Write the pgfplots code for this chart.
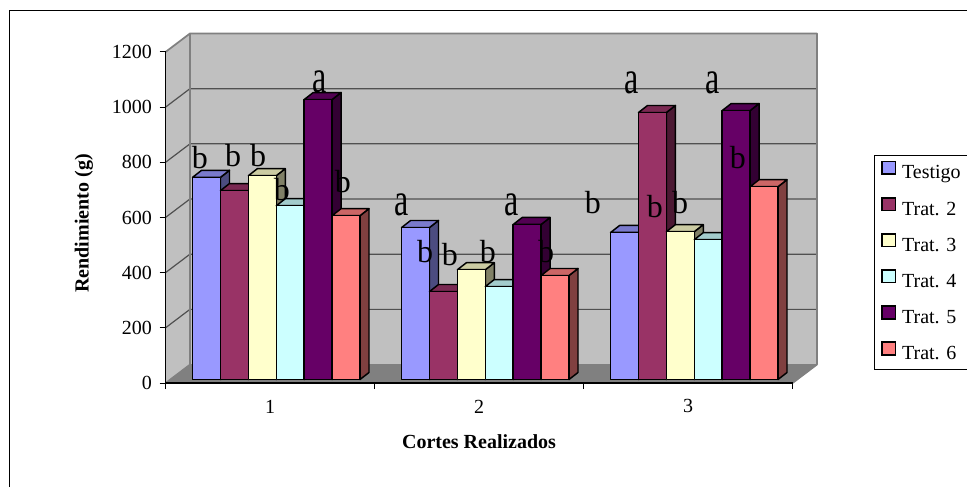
\documentclass[border=0pt]{standalone}
\usepackage{fontspec}
\setmainfont{Liberation Serif}
\usepackage{graphicx}
\usepackage{pgfplots}
\usepackage{pgfplotstable}
\pgfplotsset{compat=1.18}
\definecolor{cTest}{HTML}{9999FF}
\definecolor{cTa}{HTML}{993366}
\definecolor{cTb}{HTML}{FFFFCC}
\definecolor{cTc}{HTML}{CCFFFF}
\definecolor{cTd}{HTML}{660066}
\definecolor{cTe}{HTML}{FF8080}
\definecolor{wallc}{HTML}{C0C0C0}
\definecolor{floorc}{HTML}{808080}
\definecolor{edgec}{HTML}{808080}
\definecolor{gridc}{HTML}{505050}

\pgfplotstableread{
corte testigo t2 t3 t4 t5 t6
1 733 685 739 630 1015 594
2 551 319 398 337 562 377
3 533 968 536 507 975 699
}\datos

\pgfdeclareplotmark{nothing}{}
% sizes in pt (1 px = 0.75 pt): half width 10.4625pt, depth dx 6.75pt, dy 5.25pt
\pgfplotsset{
  bar3d/.style n args={2}{
    scatter, only marks, mark=nothing,
    point meta=y, point meta min=0, point meta max=2000,
    scatter/@pre marker code/.code={%
      \pgfmathsetlengthmacro\barh{\pgfplotspointmetatransformed*0.41375pt}%
      \pgfmathsetlengthmacro\xl{#2pt-10.4625pt}%
      \pgfmathsetlengthmacro\xr{#2pt+10.4625pt}%
      \pgfmathsetlengthmacro\yb{2.625pt-\barh}%
      \begin{scope}[line width=1.1pt, line join=round, draw=black]
        \filldraw[fill=#1!50!black] (\xr,\yb) -- ++(6.75pt,5.25pt) -- ++(0pt,\barh) -- ++(-6.75pt,-5.25pt) -- cycle;
        \filldraw[fill=#1!80!black] (\xl,2.625pt) -- ++(6.75pt,5.25pt) -- ++(20.925pt,0pt) -- ++(-6.75pt,-5.25pt) -- cycle;
        \filldraw[fill=#1] (\xl,\yb) rectangle (\xr,2.625pt);
      \end{scope}
    },
    scatter/@post marker code/.code={},
    legend image code/.code={\filldraw[fill=#1,draw=black,line width=1.2pt] (0pt,0pt) rectangle (10pt,9.5pt);},
  },
}
\tikzset{lett/.style={font=\fontsize{24}{24}\selectfont, inner sep=0pt, anchor=center}}
\newcommand\la{\scalebox{1}[1.45]{a}}

\begin{document}
\begin{tikzpicture}
\draw[black, line width=0.75pt] (6.75pt,0pt) -- (6.75pt,357pt) -- (725.25pt,357pt);
\begin{axis}[
  set layers,
  at={(124.125pt,78pt)}, anchor=south west,
  x=156.75pt, y=0.206875pt,
  xmin=0.5, xmax=3.5, ymin=0, ymax=1200,
  clip=false, axis on top,
  axis x line=bottom, axis y line=left,
  axis line style={-, black, line width=1.1pt},
  tick align=outside,
  xtick={0.5,1.5,2.5,3.5}, xticklabels={,,,},
  extra x ticks={1,2,3}, extra x tick labels={1,2,3},
  extra x tick style={major tick length=0pt},
  major tick length=4.5pt,
  tick style={black, line width=0.75pt},
  ytick={0,200,400,600,800,1000,1200},
  /pgf/number format/assume math mode=true,
  /pgf/number format/1000 sep={},
  tick label style={font=\fontsize{15}{18}\selectfont},
  xticklabel style={anchor=center, yshift=-17.6pt},
  yticklabel style={anchor=east, xshift=-2.2pt},
  xlabel={Cortes Realizados},
  ylabel={Rendimiento (g)},
  every axis x label/.style={at={(axis description cs:0.5,-0.178)}, anchor=center, font=\bfseries\fontsize{15}{18}\selectfont},
  every axis y label/.style={at={(axis description cs:-0.130,0.482)}, rotate=90, anchor=center, font=\bfseries\fontsize{15}{18}\selectfont},
  legend style={at={(1.130,0.689)}, anchor=north west, draw=black, line width=0.75pt,
    font=\fontsize{15}{18}\selectfont, inner xsep=5pt, inner ysep=4pt,
    row sep=10pt, column sep=4.5pt,
    nodes={inner sep=0pt, text height=10.5pt, text depth=3.5pt}},
  legend cell align=left,
]
% walls and floor
\fill[wallc] (0.5,0) -- (0.5,1200) -- (0.617,1267) -- (0.617,67) -- cycle;
\fill[wallc] (0.617,67) rectangle (3.617,1267);
\fill[floorc] (0.5,0) -- (3.5,0) -- (3.617,67) -- (0.617,67) -- cycle;
\draw[gridc, line width=0.9pt] (0.5,200) -- (0.617,267) -- (3.617,267);
\draw[gridc, line width=0.9pt] (0.5,400) -- (0.617,467) -- (3.617,467);
\draw[gridc, line width=0.9pt] (0.5,600) -- (0.617,667) -- (3.617,667);
\draw[gridc, line width=0.9pt] (0.5,800) -- (0.617,867) -- (3.617,867);
\draw[gridc, line width=0.9pt] (0.5,1000) -- (0.617,1067) -- (3.617,1067);
\draw[edgec, line width=1.3pt, line join=round] (0.5,1200) -- (0.617,1267) -- (3.617,1267) -- (3.617,67) -- (3.5,0);
\draw[edgec, line width=1.1pt] (0.617,1267) -- (0.617,67) -- (3.617,67);
\draw[edgec, line width=1.1pt] (0.5,0) -- (0.617,67);

\addplot[bar3d={cTest}{-47.5875}] table[x=corte,y=testigo]{\datos};
\addlegendentry{Testigo}
\addplot[bar3d={cTa}{-26.6625}] table[x=corte,y=t2]{\datos};
\addlegendentry{Trat. 2}
\addplot[bar3d={cTb}{-5.7375}] table[x=corte,y=t3]{\datos};
\addlegendentry{Trat. 3}
\addplot[bar3d={cTc}{15.1875}] table[x=corte,y=t4]{\datos};
\addlegendentry{Trat. 4}
\addplot[bar3d={cTd}{36.1125}] table[x=corte,y=t5]{\datos};
\addlegendentry{Trat. 5}
\addplot[bar3d={cTe}{57.0375}] table[x=corte,y=t6]{\datos};
\addlegendentry{Trat. 6}

% significance letters
\begin{pgfonlayer}{axis foreground}
\node[lett] at (axis cs:0.665,816) {b};
\node[lett] at (axis cs:0.823,823) {b};
\node[lett] at (axis cs:0.943,823) {b};
\node[lett] at (axis cs:1.057,700) {b};
\node[lett] at (axis cs:1.239,1091) {\la};
\node[lett] at (axis cs:1.349,729) {b};
\node[lett] at (axis cs:1.632,645) {\la};
\node[lett] at (axis cs:1.742,475) {b};
\node[lett] at (axis cs:1.861,464) {b};
\node[lett] at (axis cs:2.043,475) {b};
\node[lett] at (axis cs:2.158,645) {\la};
\node[lett] at (axis cs:2.321,475) {b};
\node[lett] at (axis cs:2.545,653) {b};
\node[lett] at (axis cs:2.732,1088) {\la};
\node[lett] at (axis cs:2.842,638) {b};
\node[lett] at (axis cs:2.962,653) {b};
\node[lett] at (axis cs:3.120,1088) {\la};
\node[lett] at (axis cs:3.239,816) {b};
\end{pgfonlayer}
\end{axis}
\pgfresetboundingbox
\useasboundingbox (0pt,0pt) rectangle (725.25pt,365.25pt);
\end{tikzpicture}
\end{document}
